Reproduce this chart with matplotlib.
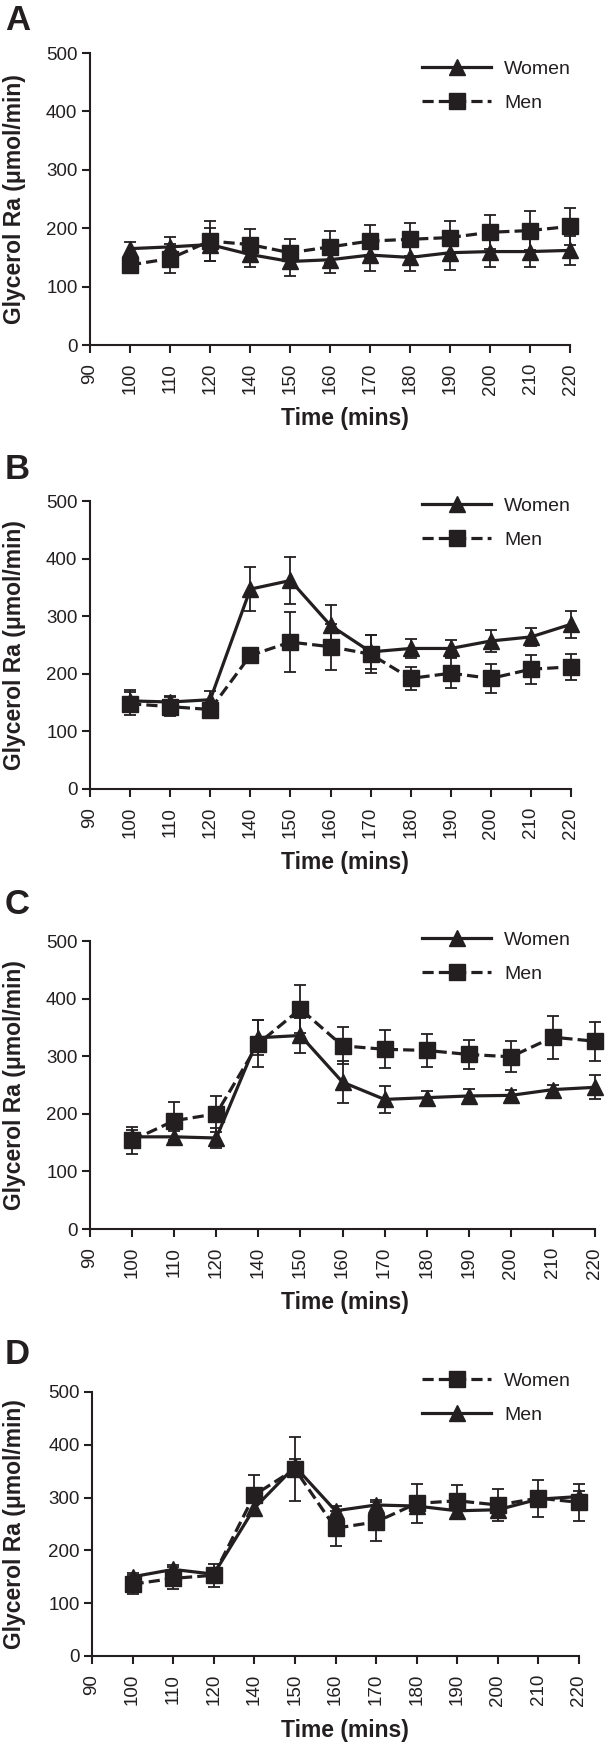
import numpy as np
import matplotlib
matplotlib.use("Agg")
import matplotlib.pyplot as plt
from matplotlib.lines import Line2D

plt.rcParams['font.family'] = ['Liberation Sans', 'DejaVu Sans']

# x axis is categorical (no 130 slot)
tick_labels = ["90", "100", "110", "120", "140", "150", "160", "170", "180", "190", "200", "210", "220"]
times = ["100", "110", "120", "140", "150", "160", "170", "180", "190", "200", "210", "220"]

# panel A
women_a = [165, 168, 172, 155, 143, 146, 154, 150, 158, 160, 160, 162]
women_a_err = [12, 17, 28, 21, 25, 23, 27, 23, 29, 27, 27, 25]
men_a = [137, 148, 178, 172, 158, 168, 178, 181, 184, 193, 196, 203]
men_a_err = [10, 25, 34, 26, 24, 28, 27, 28, 28, 29, 33, 32]

# panel B
women_b = [153, 151, 155, 347, 362, 284, 238, 244, 244, 257, 264, 286]
women_b_err = [19, 10, 15, 38, 40, 35, 30, 17, 14, 19, 15, 23]
men_b = [148, 143, 138, 232, 255, 247, 234, 192, 201, 192, 208, 212]
men_b_err = [20, 17, 12, 12, 52, 40, 33, 20, 26, 25, 25, 23]

# panel C
women_c = [160, 160, 158, 332, 336, 255, 225, 228, 231, 232, 242, 246]
women_c_err = [12, 10, 17, 30, 30, 37, 23, 12, 12, 10, 8, 21]
men_c = [154, 188, 200, 322, 382, 318, 312, 310, 303, 299, 333, 326]
men_c_err = [23, 33, 31, 40, 42, 32, 33, 28, 25, 27, 37, 34]

# panel D (legend swapped: women dashed squares, men solid triangles)
women_d = [136, 147, 153, 305, 354, 242, 254, 289, 294, 286, 299, 291]
women_d_err = [18, 21, 22, 37, 61, 33, 37, 37, 29, 31, 35, 35]
men_d = [150, 164, 155, 280, 359, 275, 286, 284, 275, 277, 297, 302]
men_d_err = [8, 8, 10, 15, 15, 10, 10, 10, 10, 10, 10, 10]

W, H = 610, 1746
ink = '#231f20'
fig = plt.figure(figsize=(W / 100, H / 100), dpi=100)

# (left, right, top, bottom) in pixels, letter y, legend top y
panels = [
    ("A", (90, 570, 53, 345), 20, 58,
     [(women_a, women_a_err, '^', '-', "Women"), (men_a, men_a_err, 's', 'dash', "Men")]),
    ("B", (90, 571, 501, 789), 470, 495,
     [(women_b, women_b_err, '^', '-', "Women"), (men_b, men_b_err, 's', 'dash', "Men")]),
    ("C", (90, 595, 941, 1229), 904, 929,
     [(women_c, women_c_err, '^', '-', "Women"), (men_c, men_c_err, 's', 'dash', "Men")]),
    ("D", (92, 579, 1392, 1656), 1355, 1370,
     [(women_d, women_d_err, 's', 'dash', "Women"), (men_d, men_d_err, '^', '-', "Men")]),
]

pos = np.array([tick_labels.index(t) for t in times])

for letter, (l, r, t, b), ly, legy, series in panels:
    ax = fig.add_axes([l / W, 1 - b / H, (r - l) / W, (b - t) / H])
    handles = []
    for vals, err, mk, ls, name in series:
        linestyle = (0, (3.5, 1.6)) if ls == 'dash' else '-'
        ms = 11 if mk == 's' else 12
        cont = ax.errorbar(pos, vals, yerr=err, color=ink, marker=mk, ms=ms,
                           lw=2.3, linestyle=linestyle, elinewidth=1.3,
                           capsize=4.5, capthick=1.3, clip_on=False)
        for art in cont.get_children():
            art.set_clip_on(False)
        handles.append(Line2D([], [], color=ink, marker=mk, ms=ms, lw=2.3,
                              linestyle=linestyle, label=name))

    ax.set_xlim(0, 12)
    ax.set_ylim(0, 500)
    ax.set_yticks(range(0, 501, 100))
    ax.set_xticks(range(len(tick_labels)))
    ax.set_xticklabels(tick_labels, rotation=90)
    for s in ['top', 'right']:
        ax.spines[s].set_visible(False)
    for s in ['left', 'bottom']:
        ax.spines[s].set_linewidth(1.5)
        ax.spines[s].set_color(ink)
    ax.tick_params(direction='out', length=6, width=1.5, colors=ink,
                   labelsize=13.5, labelcolor=ink)
    ax.tick_params(axis='x', pad=7)
    ax.tick_params(axis='y', pad=3)

    fig.text(15 / W, 1 - (t + b) / 2 / H, "Glycerol Ra (μmol/min)", rotation=90,
             ha='center', va='center', fontsize=16.5, fontweight='bold', color=ink)
    fig.text(345 / W, 1 - (b + 74) / H, "Time (mins)", ha='center', va='center',
             fontsize=16.5, fontweight='bold', color=ink)
    fig.text(5 / W, 1 - ly / H, letter, ha='left', va='center',
             fontsize=25, fontweight='bold', color=ink)

    ax.legend(handles=handles, loc='upper left',
              bbox_to_anchor=(422 / W, 1 - (legy + 2) / H),
              bbox_transform=fig.transFigure, frameon=False, borderpad=0,
              borderaxespad=0, handlelength=3.55, handletextpad=0.67,
              labelspacing=0.85, fontsize=14, labelcolor=ink)

fig.savefig("out.png", dpi=100)
